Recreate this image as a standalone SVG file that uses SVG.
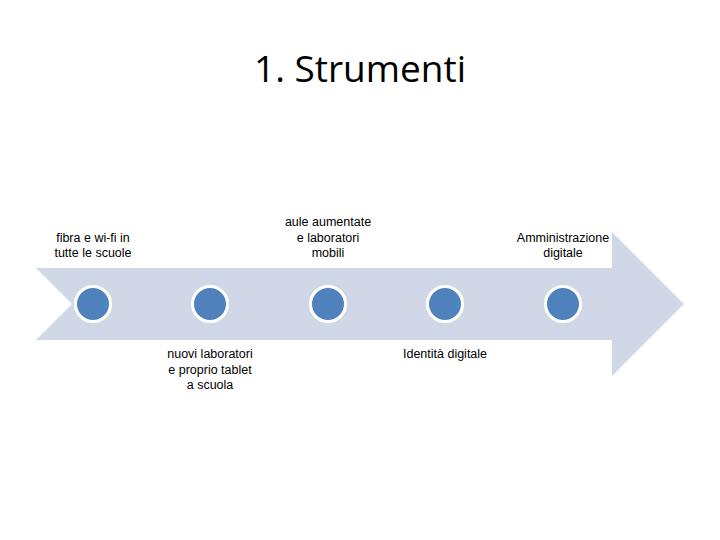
<svg xmlns="http://www.w3.org/2000/svg" width="720" height="540" viewBox="0 0 720 540">
<style>
.lbl{font-family:"Liberation Sans",Arial,sans-serif;font-size:12.5px;fill:#000;text-anchor:middle}
.dot{fill:#4F81BD;stroke:#FFFFFF;stroke-width:3}
</style>
<rect width="720" height="540" fill="#FFFFFF"/>
<text x="360" y="82" font-family="'Open Sans','Liberation Sans',sans-serif" font-size="37" text-anchor="middle" fill="#000">1. Strumenti</text>
<g id="arrow">
<polygon points="36,268 612,268 612,232 684,304 612,376 612,340 36,340 72,304" fill="#D0D8E8"/>
</g>
<g id="node1">
<circle class="dot" cx="93" cy="304" r="17.5"/>
<text class="lbl" x="93" y="242">fibra e wi-fi in</text>
<text class="lbl" x="93" y="257">tutte le scuole</text>
</g>
<g id="node2">
<circle class="dot" cx="210" cy="304" r="17.5"/>
<text class="lbl" x="210" y="358">nuovi laboratori</text>
<text class="lbl" x="210" y="374">e proprio tablet</text>
<text class="lbl" x="210" y="389">a scuola</text>
</g>
<g id="node3">
<circle class="dot" cx="328" cy="304" r="17.5"/>
<text class="lbl" x="328" y="226">aule aumentate</text>
<text class="lbl" x="328" y="242">e laboratori</text>
<text class="lbl" x="328" y="257">mobili</text>
</g>
<g id="node4">
<circle class="dot" cx="445" cy="304" r="17.5"/>
<text class="lbl" x="445" y="358">Identità digitale</text>
</g>
<g id="node5">
<circle class="dot" cx="563" cy="304" r="17.5"/>
<text class="lbl" x="563" y="242">Amministrazione</text>
<text class="lbl" x="563" y="257">digitale</text>
</g>
<g id="connectors"></g>
</svg>
